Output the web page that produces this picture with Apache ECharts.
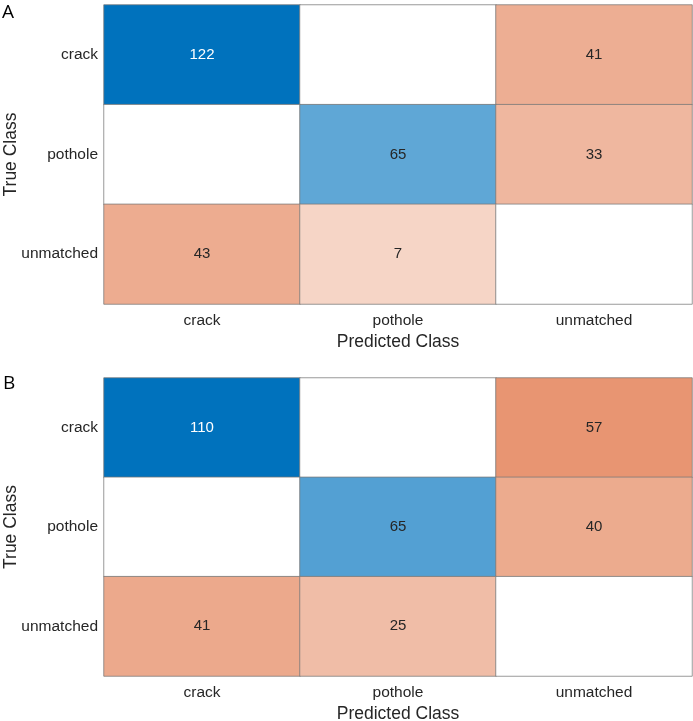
<!DOCTYPE html>
<html>
<head>
<meta charset="utf-8">
<script src="https://cdn.jsdelivr.net/npm/echarts@6/dist/echarts.min.js"></script>
<style>
html,body{margin:0;padding:0;background:#fff;}
#chart{width:693px;height:721px;}
</style>
</head>
<body>
<div id="chart"></div>
<script>
// ---- data ----
var classes = ['crack', 'pothole', 'unmatched'];
var panelNames = ['A', 'B'];
// rows = true class, columns = predicted class
var matrixA = [
  [122, 0, 41],
  [0, 65, 33],
  [43, 7, 0]
];
var matrixB = [
  [110, 0, 57],
  [0, 65, 40],
  [41, 25, 0]
];
var axisTitleX = 'Predicted Class';
var axisTitleY = 'True Class';

// ---- styling helpers ----
var diagColor = [0, 114, 189];
var offColor = [217, 83, 25];
var textColor = '#262626';
function shade(base, f) {
  return 'rgb(' + base.map(function (c) { return Math.round(255 - (255 - c) * f); }).join(',') + ')';
}
function buildData(mat) {
  var max = 0;
  mat.forEach(function (r) { r.forEach(function (v) { if (v > max) max = v; }); });
  var out = [];
  for (var i = 0; i < mat.length; i++) {
    for (var j = 0; j < mat[i].length; j++) {
      var v = mat[i][j];
      var f = v > 0 ? 0.2 + 0.8 * v / max : 0;
      var col = v > 0 ? shade(i === j ? diagColor : offColor, f) : '#ffffff';
      out.push({
        value: [j, i, v],
        itemStyle: { color: col },
        label: { color: f > 0.8 ? '#ffffff' : textColor }
      });
    }
  }
  return out;
}

var grids = [
  { left: 104, top: 5, right: 1, height: 299, containLabel: false, outerBoundsMode: 'none' },
  { left: 104, top: 378, right: 1, height: 298, containLabel: false, outerBoundsMode: 'none' }
];
var mats = [matrixA, matrixB];
var FONT = '"Liberation Sans", Arial, sans-serif';

var xAxes = [], yAxes = [], series = [];
mats.forEach(function (m, k) {
  xAxes.push({
    type: 'category', gridIndex: k, data: classes,
    axisLine: { show: false }, axisTick: { show: false }, splitLine: { show: false },
    axisLabel: { color: textColor, fontSize: 15.5, fontFamily: FONT, margin: 9 },
    name: axisTitleX, nameLocation: 'middle', nameGap: 29, nameMoveOverlap: false,
    nameTextStyle: { color: textColor, fontSize: 17.5, fontFamily: FONT }
  });
  yAxes.push({
    type: 'category', gridIndex: k, data: classes, inverse: true,
    axisLine: { show: false }, axisTick: { show: false }, splitLine: { show: false },
    axisLabel: { color: textColor, fontSize: 15.5, fontFamily: FONT, margin: 6 },
    name: axisTitleY, nameLocation: 'middle', nameGap: 84, nameRotate: 90, nameMoveOverlap: false,
    nameTextStyle: { color: textColor, fontSize: 17.5, fontFamily: FONT }
  });
  series.push({
    type: 'heatmap', xAxisIndex: k, yAxisIndex: k,
    data: buildData(m),
    itemStyle: { borderColor: 'rgba(120,120,120,0.75)', borderWidth: 1 },
    label: {
      show: true, fontSize: 15, fontFamily: FONT,
      formatter: function (p) { return p.value[2] === 0 ? '' : String(p.value[2]); }
    },
    emphasis: { disabled: true }
  });
});

var chart = echarts.init(document.getElementById('chart'));
chart.setOption({
  animation: false,
  backgroundColor: '#ffffff',
  grid: grids,
  xAxis: xAxes,
  yAxis: yAxes,
  series: series,
  graphic: [
    { type: 'text', left: 2, top: 3, style: { text: panelNames[0], fontSize: 19, fontFamily: '"Open Sans", sans-serif', fill: '#000' } },
    { type: 'text', left: 3, top: 374, style: { text: panelNames[1], fontSize: 19, fontFamily: '"Open Sans", sans-serif', fill: '#000' } }
  ]
});
</script>
</body>
</html>
